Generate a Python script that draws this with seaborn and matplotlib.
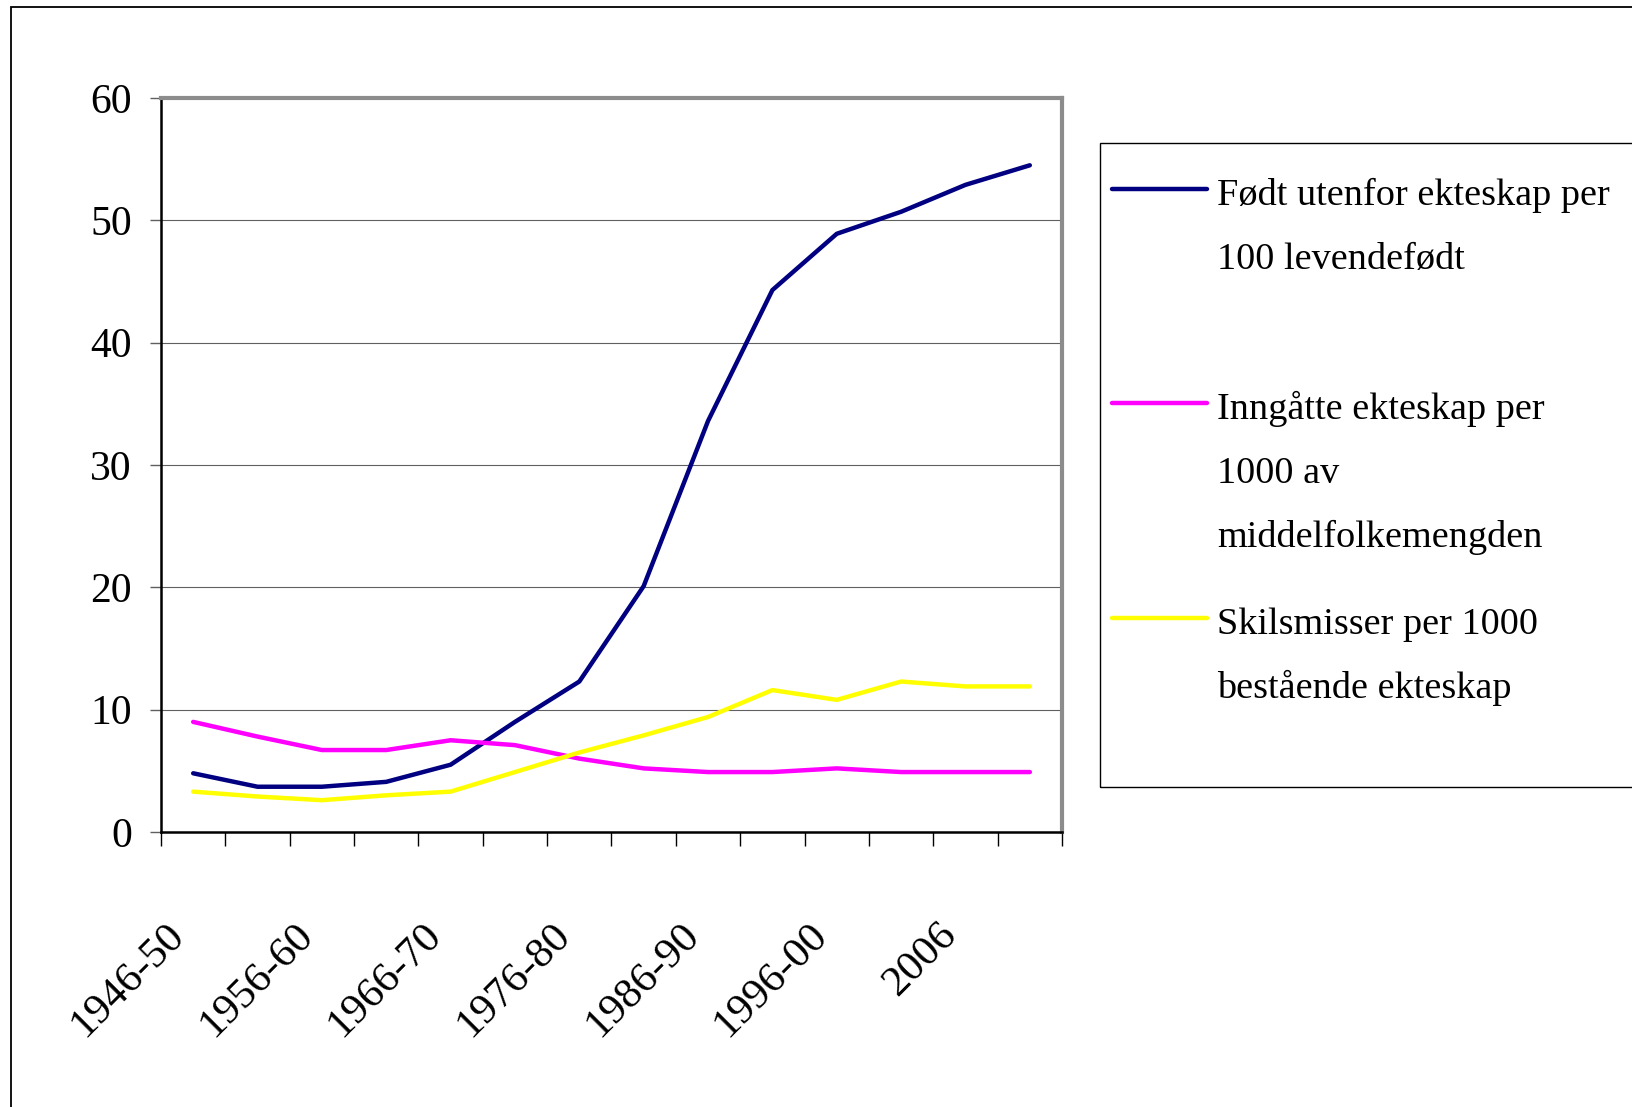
import numpy as np
import pandas as pd
import matplotlib
matplotlib.use("Agg")
import matplotlib.pyplot as plt
import matplotlib.transforms as mtransforms
from matplotlib.patches import Rectangle
from matplotlib.lines import Line2D
import seaborn as sns

# ---------------- data ----------------
periods = ["1946-50", "1951-55", "1956-60", "1961-65", "1966-70", "1971-75",
           "1976-80", "1981-85", "1986-90", "1991-95", "1996-00", "2001-05",
           "2006", "2007"]
born_outside = [4.8, 3.7, 3.7, 4.1, 5.5, 9.0, 12.3, 20.1, 33.6, 44.3, 48.9, 50.7, 52.9, 54.5]
marriages = [9.0, 7.8, 6.7, 6.7, 7.5, 7.1, 6.0, 5.2, 4.9, 4.9, 5.2, 4.9, 4.9, 4.9]
divorces = [3.3, 2.9, 2.6, 3.0, 3.3, 4.9, 6.5, 7.9, 9.4, 11.6, 10.8, 12.3, 11.9, 11.9]

series_names = ["Født utenfor ekteskap per 100 levendefødt",
                "Inngåtte ekteskap per 1000 av middelfolkemengden",
                "Skilsmisser per 1000 bestående ekteskap"]
legend_lines = [["Født utenfor ekteskap per", "100 levendefødt"],
                ["Inngåtte ekteskap per", "1000 av", "middelfolkemengden"],
                ["Skilsmisser per 1000", "bestående ekteskap"]]
colors = ["#000080", "#FF00FF", "#FFFF00"]
y_ticks = [0, 10, 20, 30, 40, 50, 60]

df = pd.concat([
    pd.DataFrame({"period": periods, "value": vals, "series": name})
    for name, vals in zip(series_names, [born_outside, marriages, divorces])
], ignore_index=True)

# ---------------- style ----------------
sns.set_theme(style="white")
plt.rcParams["font.family"] = ["Liberation Serif", "DejaVu Serif"]

W, H = 1632, 1107
fig = plt.figure(figsize=(W / 100, H / 100), dpi=100)
fig.patch.set_facecolor("white")

def fx(px):
    return px / W

def fy(py):
    return 1 - py / H

ax = fig.add_axes([fx(161), fy(832), fx(1062) - fx(161), fy(98) - fy(832)])

sns.lineplot(data=df, x="period", y="value", hue="series", palette=colors,
             hue_order=series_names, linewidth=3.2, sort=False, legend=False, ax=ax)

ax.set_xlim(-0.5, len(periods) - 0.5)
ax.set_ylim(0, 60)
ax.set_xlabel("")
ax.set_ylabel("")

ax.set_yticks(y_ticks)
ax.set_yticklabels([str(v) for v in y_ticks])
ax.yaxis.grid(True, color="#606060", linewidth=0.8)
ax.xaxis.grid(False)
ax.set_axisbelow(True)

ax.set_xticks(np.arange(0, len(periods), 2))
ax.set_xticklabels(periods[::2])
ax.set_xticks(np.arange(-0.5, len(periods), 1), minor=True)

ax.tick_params(axis="y", which="major", left=True, length=8, width=1,
               color="#606060", pad=13, labelsize=30, labelcolor="black")
ax.tick_params(axis="x", which="major", bottom=True, length=0, pad=70,
               labelsize=31, labelcolor="black")
ax.tick_params(axis="x", which="minor", bottom=True, length=10, width=1,
               color="black")

offset = mtransforms.ScaledTranslation(-15 / 100, 0, fig.dpi_scale_trans)
for lab in ax.get_xticklabels():
    lab.set_rotation(45)
    lab.set_ha("right")
    lab.set_va("center")
    lab.set_rotation_mode("anchor")
    lab.set_transform(lab.get_transform() + offset)

for side in ["top", "right"]:
    ax.spines[side].set_color("#8c8c8c")
    ax.spines[side].set_linewidth(3)
for side in ["left", "bottom"]:
    ax.spines[side].set_color("black")
    ax.spines[side].set_linewidth(1.8)

# ---------------- outer frame ----------------
fig.add_artist(Rectangle((fx(11), fy(1200)), 1.2, fy(7) - fy(1200),
                         transform=fig.transFigure, fill=False,
                         edgecolor="black", linewidth=1.3, clip_on=False))

# ---------------- legend ----------------
fig.add_artist(Rectangle((fx(1100), fy(787)), 1.0, fy(143) - fy(787),
                         transform=fig.transFigure, fill=False,
                         edgecolor="black", linewidth=1.0, clip_on=False))
handle_y = [189, 403, 618]
line_pitch = 64
for lines, col, hy in zip(legend_lines, colors, handle_y):
    fig.add_artist(Line2D([fx(1112), fx(1207)], [fy(hy)] * 2,
                          transform=fig.transFigure, color=col, linewidth=3.2,
                          solid_capstyle="round"))
    base = hy + 16
    for i, t in enumerate(lines):
        fig.text(fx(1217), fy(base + i * line_pitch), t, fontsize=27.5,
                 ha="left", va="baseline", color="black")

fig.savefig("out.png", dpi=100, facecolor="white")
